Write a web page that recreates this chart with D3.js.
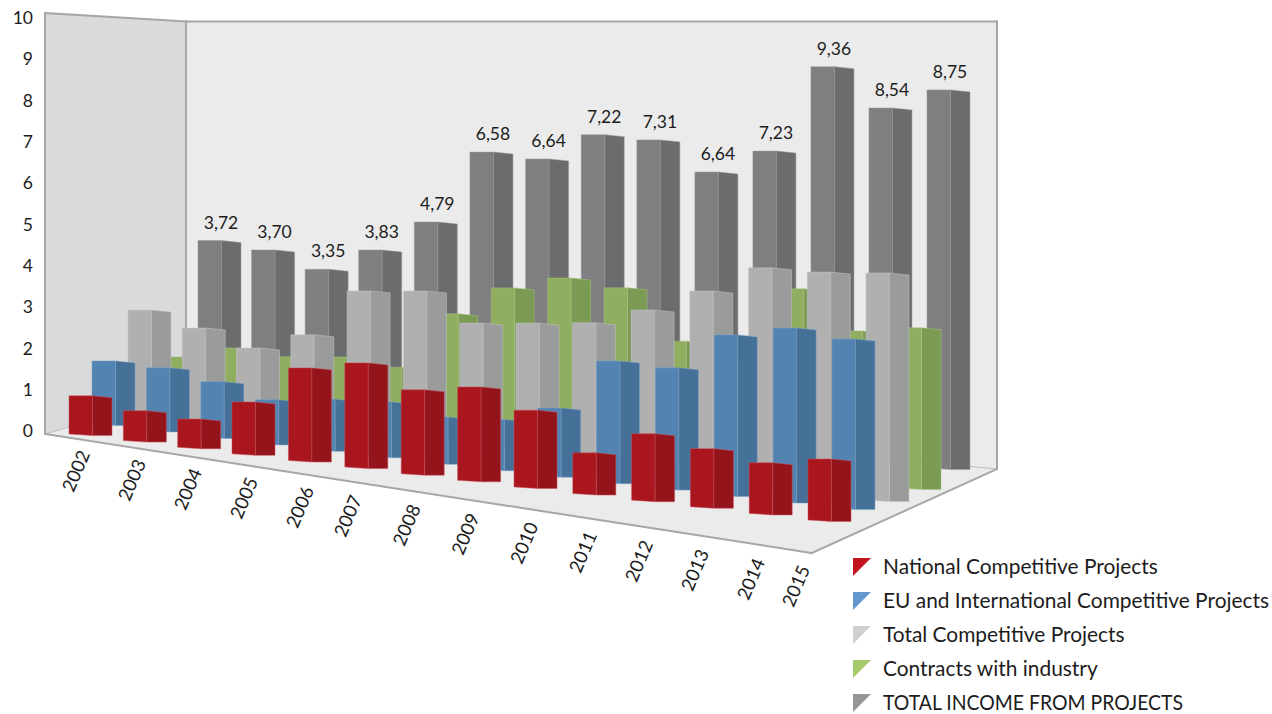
<!DOCTYPE html>
<html><head><meta charset="utf-8">
<script src="https://cdn.jsdelivr.net/npm/d3@7"></script>
<style>html,body{margin:0;background:#fff}svg{display:block}text{font-family:Lato,"Open Sans",sans-serif;fill:#1c1c1c}</style>
</head><body><svg id="c" width="1272" height="714"></svg>
<script>
const years = ["2002","2003","2004","2005","2006","2007","2008","2009","2010","2011","2012","2013","2014","2015"];
const seriesNames = ["National Competitive Projects","EU and International Competitive Projects","Total Competitive Projects","Contracts with industry","TOTAL INCOME FROM PROJECTS"];
const national = [0.92,0.72,0.68,1.25,2.23,2.51,2.02,2.25,1.85,0.98,1.60,1.40,1.22,1.47];
const euIntl = [1.52,1.51,1.33,1.05,1.22,1.31,1.10,1.20,1.63,2.92,2.91,3.86,4.18,4.07];
const totalCompetitive = [2.60,2.32,1.99,2.46,3.67,3.82,3.20,3.35,3.51,3.97,4.58,5.29,5.34,5.47];
const industry = [1.28,1.64,1.57,1.71,1.61,3.04,3.81,4.19,4.10,2.96,2.65,4.51,3.64,3.86];
const totalIncome = [3.72,3.63,3.30,3.90,4.71,6.53,6.50,7.22,7.23,6.59,7.23,9.40,8.54,9.11];
const incomeLabels = ["3,72","3,70","3,35","3,83","4,79","6,58","6,64","7,22","7,31","6,64","7,23","9,36","8,54","8,75"];
const seriesValues = [national,euIntl,totalCompetitive,industry,totalIncome];
const valueTicks = [0,1,2,3,4,5,6,7,8,9,10];

// layout: an oblique view of the floor
const frontColors = ["#a9161d","#5283b1","#b0b0b0","#8fae5f","#7f7f81"];
const sideColors  = ["#93141b","#457098","#9a9c9b","#7b9a53","#6b6c6e"];
const edgeColors  = ["#c8505a","#7ba3c8","#c6c6c6","#a9c483","#98989a"];
const legendColors= ["#c1141f","#6398cd","#cfcfcf","#a5c96b","#969696"];

const svg = d3.select("#c");
const t = d3.scalePoint(years,[0,1]);
const rowX = d3.scaleLinear().domain([0,3/13,8/13,1]).range([69,232,514,808]);
const depthNearX = d3.scaleOrdinal(seriesNames,[0,23,59,90,129]);
const depthFarX  = d3.scaleOrdinal(seriesNames,[0,24,58,90,119]);
const baseNear = d3.scaleOrdinal(seriesNames,[434,424,418,410,395]);
const baseFar  = d3.scaleOrdinal(seriesNames,[520,508,500,488,468]);
const height = d3.scaleLinear().domain([0,10]).range([0,415]);
const FW = 23.5, SW = 19.5;

// walls and floor
const corner = {lf:[45,13],lb:[186,21.5],rb:[997,21.5],flf:[45,434],flb:[186,392],frb:[997,469],ffr:[812,553]};
const poly = a => "M"+a.map(p=>p.join(",")).join("L")+"Z";
const walls = svg.append("g");
walls.append("path").attr("d",poly([corner.lf,corner.lb,corner.flb,corner.flf])).attr("fill","#d9dadc");
walls.append("path").attr("d",poly([corner.lb,corner.rb,corner.frb,corner.flb])).attr("fill","#ebebeb");
walls.append("path").attr("d",poly([corner.flf,corner.flb,corner.frb,corner.ffr])).attr("fill","#ebebeb");
const line = (a,b,w,c)=>walls.append("line").attr("x1",a[0]).attr("y1",a[1]).attr("x2",b[0]).attr("y2",b[1]).attr("stroke",c||"#a6a6a6").attr("stroke-width",w).attr("stroke-linecap","square");
line(corner.flf,corner.flb,1,"#bdbdbd"); line(corner.flb,corner.frb,1,"#bdbdbd");
line(corner.lf,corner.flf,2); line(corner.lf,corner.lb,2); line(corner.lb,corner.rb,2);
line(corner.rb,corner.frb,2); line(corner.lb,corner.flb,2);
line(corner.flf,corner.ffr,2); line(corner.ffr,corner.frb,2);

// bars, back row first
const bars = [];
seriesNames.forEach((name,s)=>{
  years.forEach((y,i)=>{
    const u=t(y);
    const x=rowX(u)+d3.interpolateNumber(depthNearX(name),depthFarX(name))(u);
    const b=d3.interpolateNumber(baseNear(name),baseFar(name))(u);
    bars.push({s,x,b,top:b-height(seriesValues[s][i]),i});
  });
});
const rows = svg.append("g").selectAll("g").data(d3.range(seriesNames.length).reverse()).join("g");
rows.each(function(s){
  const g=d3.select(this);
  const rowBars=bars.filter(d=>d.s===s);
  g.selectAll("path.front").data(rowBars).join("path").attr("class","front")
    .attr("d",d=>poly([[d.x,d.top],[d.x+FW,d.top],[d.x+FW,d.b+1.5],[d.x,d.b]]))
    .attr("fill",frontColors[s]).attr("stroke",edgeColors[s]).attr("stroke-width",0.5);
  g.selectAll("path.side").data(rowBars).join("path").attr("class","side")
    .attr("d",d=>poly([[d.x+FW,d.top],[d.x+FW+SW,d.top+2],[d.x+FW+SW,d.b+1.5],[d.x+FW,d.b+1.5]]))
    .attr("fill",sideColors[s]).attr("stroke",edgeColors[s]).attr("stroke-width",0.5);
});

// data labels on the back row
svg.append("g").selectAll("text").data(bars.filter(d=>d.s===4)).join("text")
  .attr("x",d=>d.x+23).attr("y",d=>d.top-18).attr("dy","0.35em")
  .attr("text-anchor","middle").attr("font-size",17.5).text(d=>incomeLabels[d.i]);

// value axis
const yAxisScale = d3.scaleLinear().domain([0,10]).range([431,18]);
const ax = svg.append("g").attr("transform","translate(33,0)")
  .call(d3.axisLeft(yAxisScale).tickValues(valueTicks).tickSize(0).tickPadding(0).tickFormat(d3.format("d")));
ax.select(".domain").remove();
ax.selectAll("text").attr("font-size",17.5).attr("font-family","Lato").attr("fill","#1c1c1c");

// year labels
const labelX = d3.scaleLinear().domain([0,4/13,5/13,9/13,12/13,1]).range([76,300,348,583,751,796]);
const labelY = d3.scaleLinear().domain([0,12/13,1]).range([471,579,586]);
svg.append("g").selectAll("text").data(years).join("text")
  .attr("transform",d=>`translate(${labelX(t(d))},${labelY(t(d))}) rotate(-67)`)
  .attr("text-anchor","middle").attr("dy","0.35em").attr("font-size",18.5).text(d=>d);

// legend
const legendY = d3.scalePoint(seriesNames,[567,703]);
const lg = svg.append("g").selectAll("g").data(seriesNames).join("g")
  .attr("transform",d=>`translate(853,${legendY(d)})`);
lg.append("path").attr("d","M0,-9L18,-9L0,9Z").attr("fill",(d,i)=>legendColors[i]);
lg.append("text").attr("x",30).attr("dy","0.35em").attr("font-size",20.9).text(d=>d)
  .filter(d=>d===d.toUpperCase()).attr("textLength",300).attr("lengthAdjust","spacingAndGlyphs");
</script></body></html>
